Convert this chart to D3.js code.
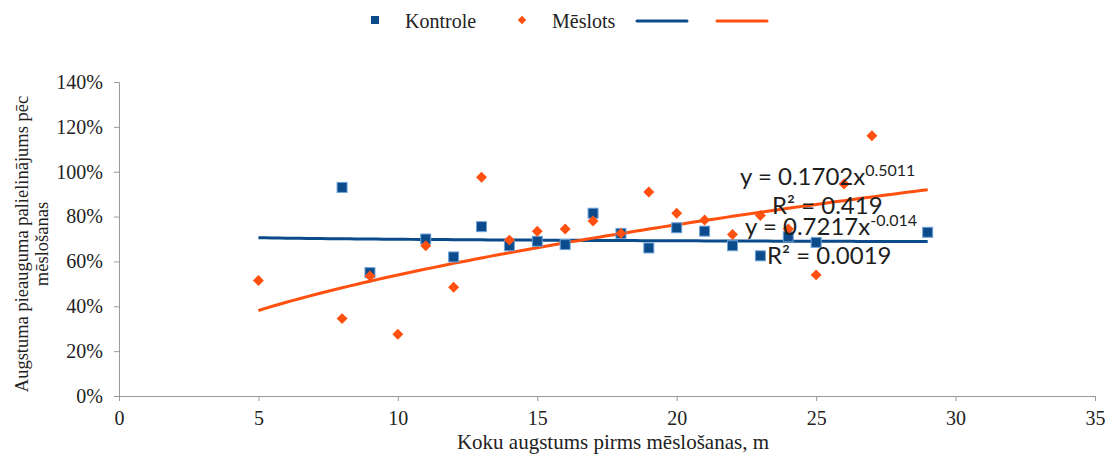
<!DOCTYPE html>
<html>
<head>
<meta charset="utf-8">
<script src="https://cdn.jsdelivr.net/npm/d3@7"></script>
<style>
  html, body { margin: 0; padding: 0; background: #fff; }
  svg { display: block; }
</style>
</head>
<body>
<svg id="chart" width="1105" height="459"></svg>
<script>
// Tree height before fertilisation (m) and relative height-growth increase
const kontroleX = [8, 9, 11, 12, 13, 14, 15, 16, 17, 18, 19, 20, 21, 22, 23, 24, 25, 29];
const kontroleY = [0.93, 0.55, 0.70, 0.62, 0.755, 0.67, 0.69, 0.675, 0.815, 0.725, 0.66, 0.75, 0.735, 0.67, 0.625, 0.71, 0.685, 0.73];

const meslotsX = [5, 8, 9, 10, 11, 12, 13, 14, 15, 16, 17, 18, 19, 20, 21, 22, 23, 24, 25, 26, 27];
const meslotsY = [0.515, 0.345, 0.535, 0.275, 0.67, 0.485, 0.975, 0.695, 0.735, 0.745, 0.78, 0.725, 0.91, 0.815, 0.785, 0.72, 0.805, 0.745, 0.54, 0.945, 1.16];

// Power trendlines y = a·x^b
const seriesNames = ["Kontrole", "Mēslots"];
const trendA = [0.7217, 0.1702];
const trendB = [-0.014, 0.5011];
const trendRange = [5, 29];
const trendLabelEq = [["y = 0.7217x", "-0.014"], ["y = 0.1702x", "0.5011"]];
const trendLabelR2 = ["R² = 0.0019", "R² = 0.419"];

const xTicks = [0, 5, 10, 15, 20, 25, 30, 35];
const yTicks = [0, 0.2, 0.4, 0.6, 0.8, 1.0, 1.2, 1.4];

const blue = "#0B4A8B";
const blueEdge = "#6FA3D8";
const orange = "#FF5010";

const svg = d3.select("#chart");
const serif = "'Liberation Serif', 'Times New Roman', serif";
const sans = "Lato, 'Open Sans', sans-serif";

const x = d3.scaleLinear().domain([0, 35]).range([119, 1095]);
const y = d3.scaleLinear().domain([0, 1.4]).range([396, 82]);

// Axes
const xAxis = svg.append("g").attr("transform", `translate(0,${y(0)})`)
  .call(d3.axisBottom(x).tickValues(xTicks).tickSize(5).tickPadding(10).tickFormat(d3.format("d")));
const yAxis = svg.append("g").attr("transform", `translate(${x(0)},0)`)
  .call(d3.axisLeft(y).tickValues(yTicks).tickSize(5).tickPadding(11).tickFormat(d3.format(".0%")));
[xAxis, yAxis].forEach(g => {
  g.select(".domain").attr("stroke", "#9a9a9a");
  g.selectAll(".tick line").attr("stroke", "#9a9a9a");
  g.selectAll(".tick text").attr("font-family", serif).attr("font-size", 20).attr("fill", "#222");
});

// Axis titles
svg.append("text").attr("x", 613).attr("y", 449).attr("text-anchor", "middle")
  .attr("font-family", serif).attr("font-size", 21).attr("fill", "#222")
  .text("Koku augstums pirms mēslošanas, m");
const yt = svg.append("text").attr("transform", "translate(22,244) rotate(-90)")
  .attr("text-anchor", "middle").attr("font-family", serif).attr("font-size", 18.5).attr("fill", "#222");
yt.append("tspan").attr("x", 0).attr("dy", 6).text("Augstuma pieauguma palielinājums pēc");
yt.append("tspan").attr("x", 0).attr("dy", 20).text("mēslošanas");

// Trendlines
const line = d3.line().x(d => x(d[0])).y(d => y(d[1]));
const colors = [blue, orange];
[0, 1].forEach(i => {
  const pts = d3.range(trendRange[0], trendRange[1] + 0.001, 0.25)
    .map(v => [v, trendA[i] * Math.pow(v, trendB[i])]);
  svg.append("path").datum(pts).attr("d", line)
    .attr("fill", "none").attr("stroke", colors[i]).attr("stroke-width", 3);
});

// Kontrole markers (squares)
svg.append("g").selectAll("rect").data(kontroleX.map((v, i) => [v, kontroleY[i]])).join("rect")
  .attr("x", d => x(d[0]) - 5).attr("y", d => y(d[1]) - 5)
  .attr("width", 10).attr("height", 10)
  .attr("fill", blue).attr("stroke", blueEdge).attr("stroke-width", 1);

// Mēslots markers (diamonds)
svg.append("g").selectAll("path").data(meslotsX.map((v, i) => [v, meslotsY[i]])).join("path")
  .attr("transform", d => `translate(${x(d[0])},${y(d[1])}) rotate(45)`)
  .attr("d", d3.symbol().type(d3.symbolSquare).size(60))
  .attr("fill", orange);

// Trendline equation labels
function eqLabel(i, x0, yBase, r2x, r2Base) {
  const t = svg.append("text").attr("x", x0).attr("y", yBase)
    .attr("font-family", sans).attr("font-size", 24).attr("fill", "#1e1e1e");
  t.append("tspan").text(trendLabelEq[i][0]);
  t.append("tspan").attr("dy", -9).attr("font-size", 16).text(trendLabelEq[i][1]);
  svg.append("text").attr("x", r2x).attr("y", r2Base)
    .attr("font-family", sans).attr("font-size", 24).attr("fill", "#1e1e1e")
    .text(trendLabelR2[i]);
}
eqLabel(1, 740, 185, 772, 214);
eqLabel(0, 745, 235, 767, 264);

// Legend
const lg = svg.append("g");
lg.append("rect").attr("x", 371).attr("y", 16).attr("width", 8).attr("height", 8).attr("fill", blue);
lg.append("text").attr("x", 405).attr("y", 28).attr("font-family", serif).attr("font-size", 20)
  .attr("fill", "#222").text(seriesNames[0]);
lg.append("path").attr("transform", "translate(522,20) rotate(45)")
  .attr("d", d3.symbol().type(d3.symbolSquare).size(36)).attr("fill", orange);
lg.append("text").attr("x", 552).attr("y", 28).attr("font-family", serif).attr("font-size", 20)
  .attr("fill", "#222").text(seriesNames[1]);
lg.append("line").attr("x1", 637).attr("x2", 687).attr("y1", 21).attr("y2", 21)
  .attr("stroke", blue).attr("stroke-width", 3).attr("stroke-linecap", "round");
lg.append("line").attr("x1", 717).attr("x2", 767).attr("y1", 21).attr("y2", 21)
  .attr("stroke", orange).attr("stroke-width", 3).attr("stroke-linecap", "round");
</script>
</body>
</html>
